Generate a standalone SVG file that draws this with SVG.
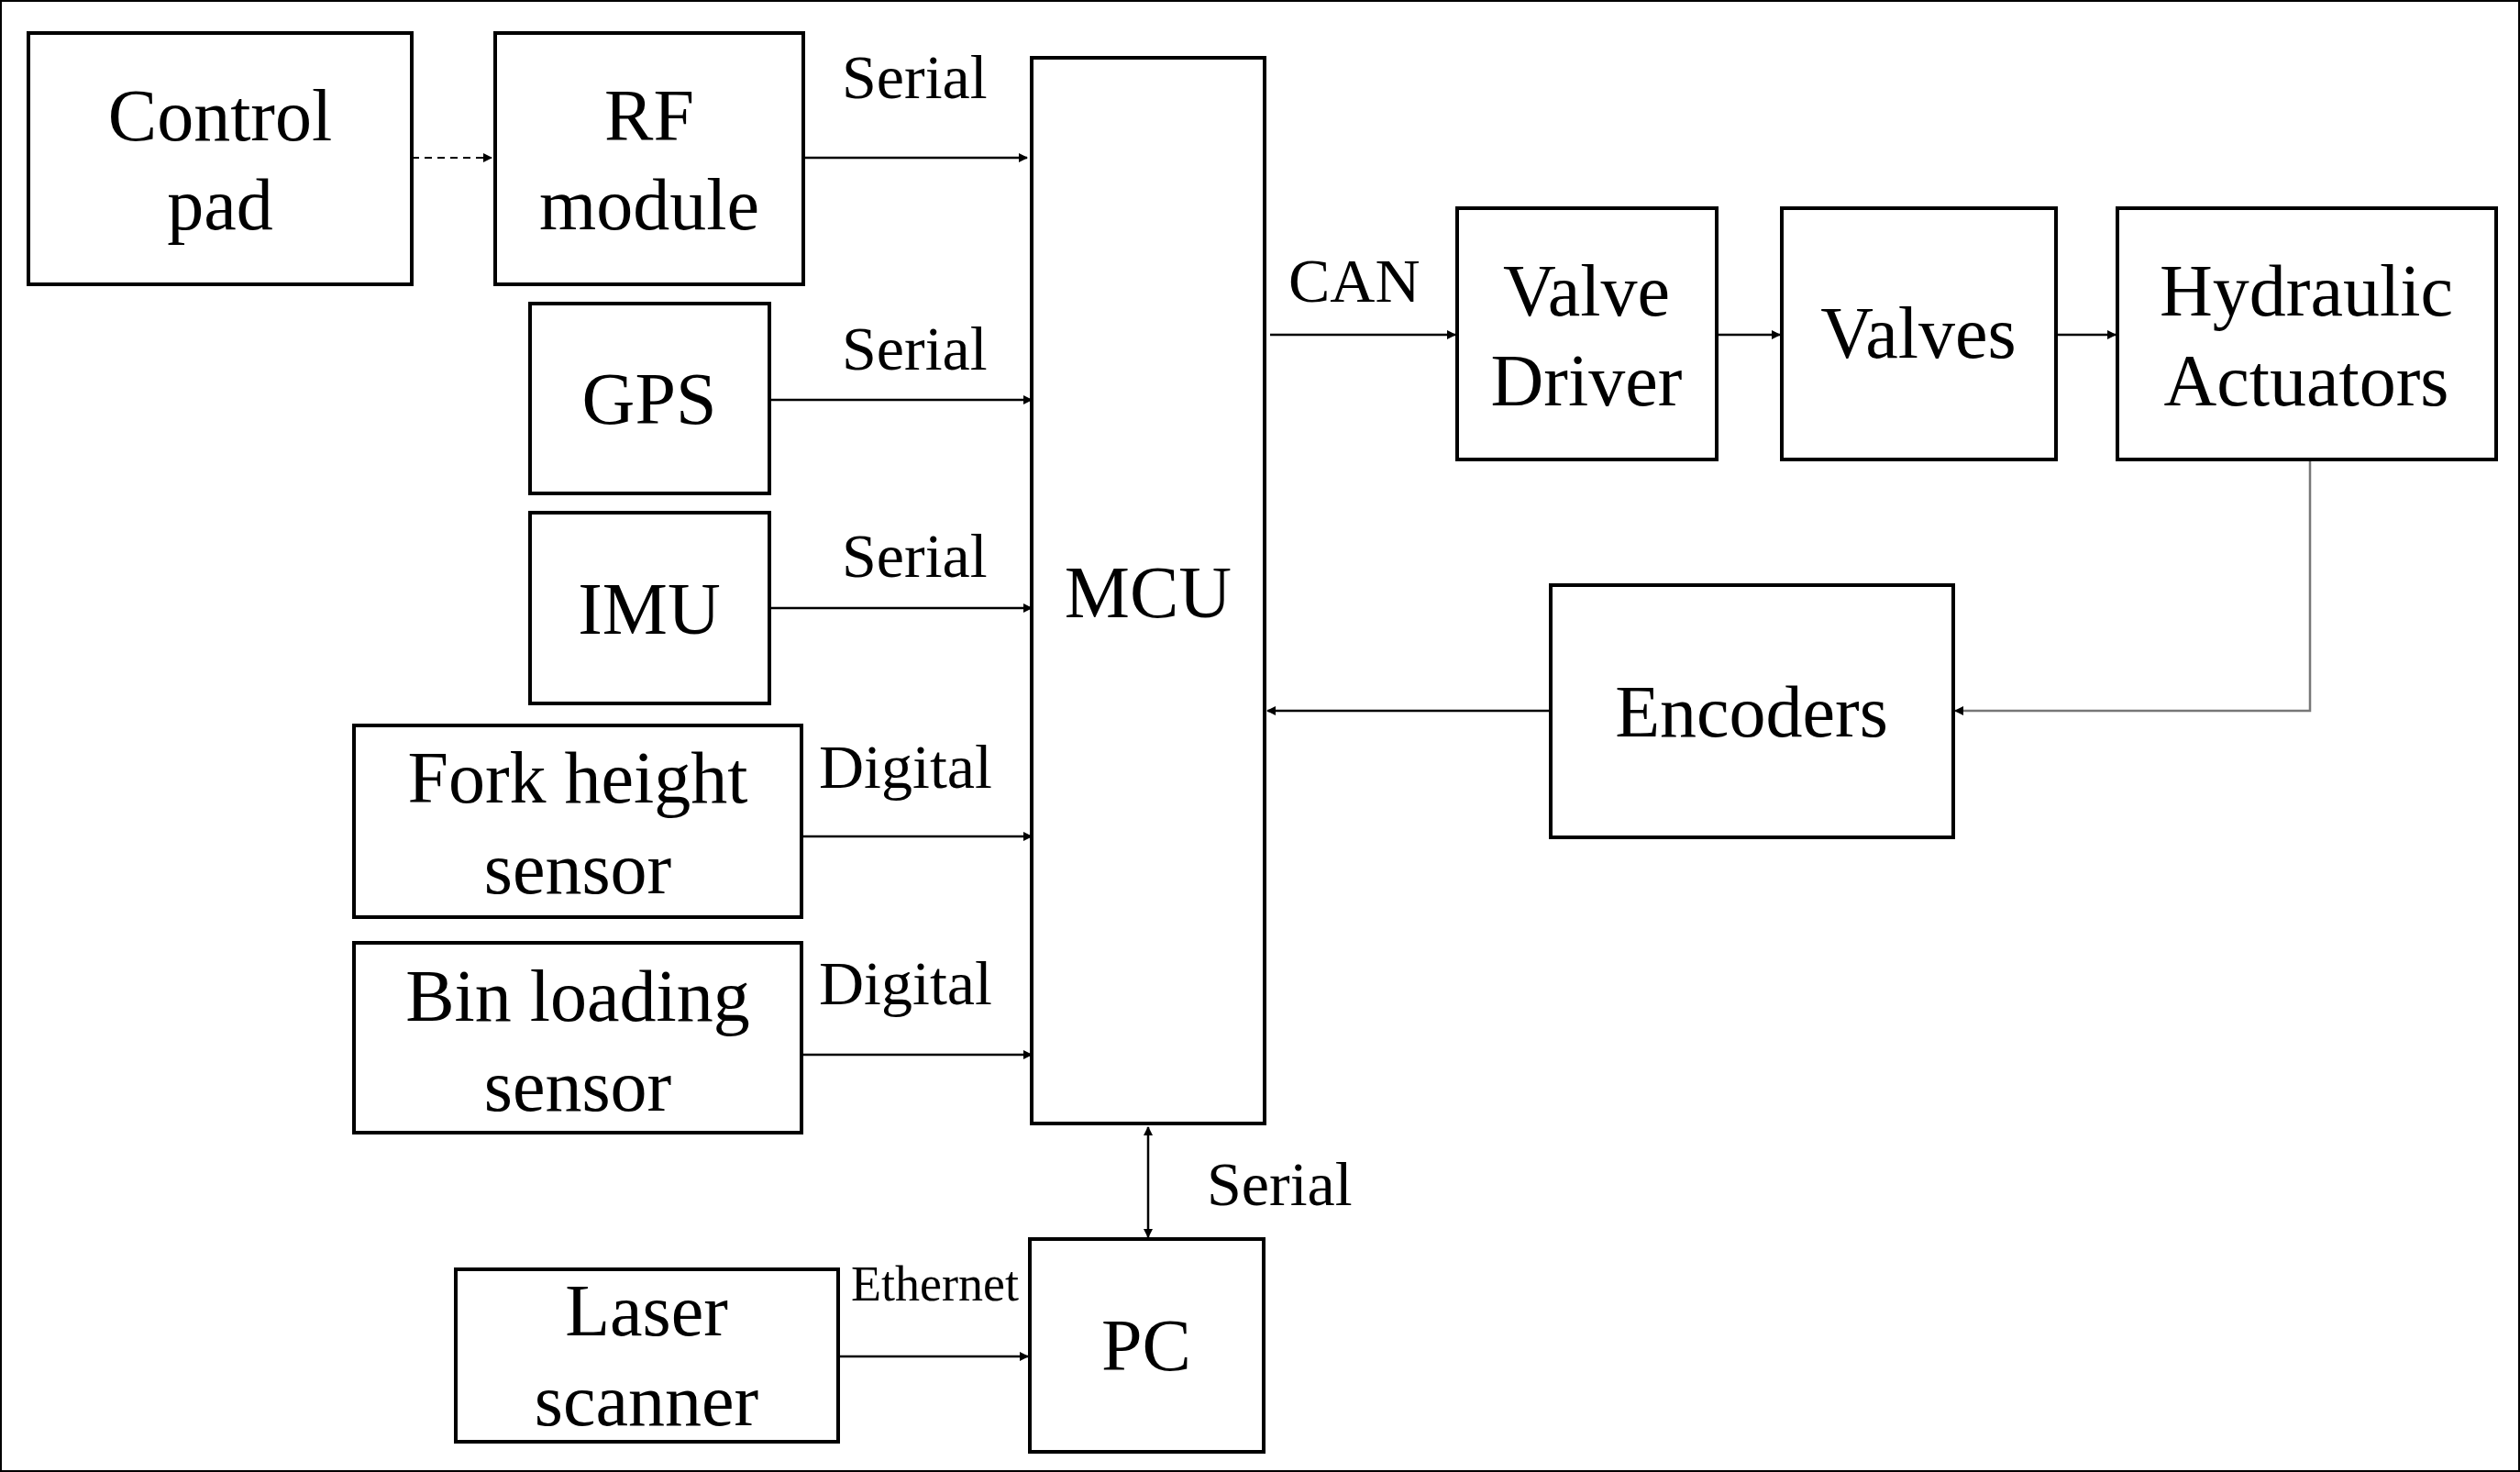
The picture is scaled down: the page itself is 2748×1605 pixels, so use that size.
<svg xmlns="http://www.w3.org/2000/svg" width="2748" height="1605" viewBox="0 0 2748 1605">
<style>
rect{fill:#fff;stroke:#000;stroke-width:4}
text{font-family:"Liberation Serif","Times New Roman",serif;fill:#000}
.n{font-size:80px;text-anchor:middle}
.l{font-size:68px}
.c{stroke:#000;stroke-width:2.5;fill:none}
</style>
<defs>
<marker id="a" markerWidth="10" markerHeight="10" refX="9" refY="5" orient="auto-start-reverse" markerUnits="userSpaceOnUse" viewBox="0 0 10 10"><path d="M0,0 L10,5 L0,10z" fill="#000"/></marker>
</defs>
<rect width="2748" height="1605" fill="#fff" stroke="none"/>
<g id="connectors">
<line class="c" x1="449" y1="172" x2="536" y2="172" stroke-dasharray="8,6" marker-end="url(#a)" style="stroke-width:2"/>
<line class="c" x1="876" y1="172" x2="1120" y2="172" marker-end="url(#a)"/>
<line class="c" x1="839" y1="436" x2="1125" y2="436" marker-end="url(#a)"/>
<line class="c" x1="839" y1="663" x2="1125" y2="663" marker-end="url(#a)"/>
<line class="c" x1="874" y1="912" x2="1125" y2="912" marker-end="url(#a)"/>
<line class="c" x1="874" y1="1150" x2="1125" y2="1150" marker-end="url(#a)"/>
<line class="c" x1="1385" y1="365" x2="1587" y2="365" marker-end="url(#a)"/>
<line class="c" x1="1872" y1="365" x2="1941" y2="365" marker-end="url(#a)"/>
<line class="c" x1="2242" y1="365" x2="2307" y2="365" marker-end="url(#a)"/>
<polyline class="c" points="2519,501 2519,775 2132,775" style="stroke:#777" marker-end="url(#a)"/>
<line class="c" x1="1691" y1="775" x2="1382" y2="775" marker-end="url(#a)"/>
<line class="c" x1="1252" y1="1229" x2="1252" y2="1349" marker-start="url(#a)" marker-end="url(#a)"/>
<line class="c" x1="914" y1="1479" x2="1121" y2="1479" marker-end="url(#a)"/>
</g>
<g id="labels">
<text class="l" x="918" y="107">Serial</text>
<text class="l" x="918" y="403">Serial</text>
<text class="l" x="918" y="629">Serial</text>
<text class="l" x="893" y="859">Digital</text>
<text class="l" x="893" y="1095">Digital</text>
<text class="l" x="1405" y="329">CAN</text>
<text class="l" x="1316" y="1314">Serial</text>
<text x="928" y="1418" style="font-size:54px">Ethernet</text>
</g>
<g id="control-pad"><rect x="31" y="36" width="418" height="274"/><text class="n" x="240" y="153">Control</text><text class="n" x="240" y="250">pad</text></g>
<g id="rf-module"><rect x="540" y="36" width="336" height="274"/><text class="n" x="708" y="153">RF</text><text class="n" x="708" y="250">module</text></g>
<g id="gps"><rect x="578" y="331" width="261" height="207"/><text class="n" x="708" y="462">GPS</text></g>
<g id="imu"><rect x="578" y="559" width="261" height="208"/><text class="n" x="708" y="691">IMU</text></g>
<g id="fork"><rect x="386" y="791" width="488" height="209"/><text class="n" x="630" y="875">Fork height</text><text class="n" x="630" y="974">sensor</text></g>
<g id="bin"><rect x="386" y="1028" width="488" height="207"/><text class="n" x="630" y="1113">Bin loading</text><text class="n" x="630" y="1211">sensor</text></g>
<g id="mcu"><rect x="1125" y="63" width="254" height="1162"/><text class="n" x="1252" y="673">MCU</text></g>
<g id="valve-driver"><rect x="1589" y="227" width="283" height="274"/><text class="n" x="1730" y="344">Valve</text><text class="n" x="1730" y="442">Driver</text></g>
<g id="valves"><rect x="1943" y="227" width="299" height="274"/><text class="n" x="2092" y="390">Valves</text></g>
<g id="hydraulic"><rect x="2309" y="227" width="413" height="274"/><text class="n" x="2515" y="344">Hydraulic</text><text class="n" x="2515" y="442">Actuators</text></g>
<g id="encoders"><rect x="1691" y="638" width="439" height="275"/><text class="n" x="1910" y="803">Encoders</text></g>
<g id="pc"><rect x="1123" y="1351" width="255" height="232"/><text class="n" x="1250" y="1494">PC</text></g>
<g id="laser"><rect x="497" y="1384" width="417" height="188"/><text class="n" x="705" y="1456">Laser</text><text class="n" x="705" y="1554">scanner</text></g>
</svg>
